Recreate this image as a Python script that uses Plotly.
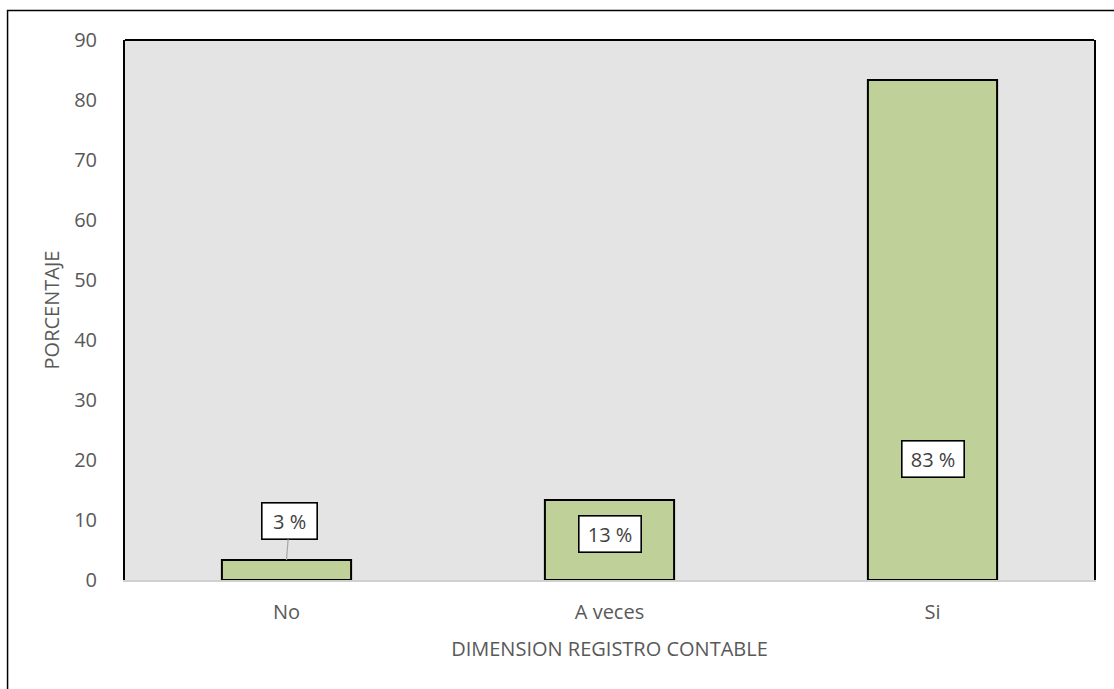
import plotly.graph_objects as go

categories = ["No", "A veces", "Si"]
values = [3.33, 13.33, 83.33]
labels = ["3 %", "13 %", "83 %"]
label_pos = [9.8, 7.7, 20.1]

y_ticks = [0, 10, 20, 30, 40, 50, 60, 70, 80, 90]

FONT = "Open Sans"
GREY = "#595959"
FS = 20

fig = go.Figure()
fig.add_trace(go.Bar(
    x=categories, y=values, width=0.4,
    marker=dict(color="#BFD098", line=dict(color="black", width=2)),
    hoverinfo="skip",
))

box_w = [46, 53, 53]
annotations = []
for i, (c, v, t, p) in enumerate(zip(categories, values, labels, label_pos)):
    common = dict(
        xref="x", yref="y", text=t, width=box_w[i], height=27,
        bgcolor="white", bordercolor="black", borderwidth=1.6, borderpad=4,
        font=dict(family=FONT, size=FS, color="#404040"),
    )
    if i == 0:
        annotations.append(dict(
            x=c, y=v, showarrow=True,
            ax=3, ay=-39, arrowhead=0, arrowwidth=1.2, arrowcolor="#A6A6A6",
            **common,
        ))
    else:
        annotations.append(dict(x=c, y=p, showarrow=False, **common))

fig.update_layout(
    width=1114, height=689,
    margin=dict(l=124.5, r=20, t=39.5, b=109),
    paper_bgcolor="white", plot_bgcolor="#E4E4E4",
    showlegend=False,
    font=dict(family=FONT, size=FS, color=GREY),
    bargap=0.6,
    annotations=annotations,
    xaxis=dict(
        showgrid=False, showline=True, linecolor="#D0D0D0", linewidth=2,
        ticks="", ticklabelstandoff=13,
        tickfont=dict(family=FONT, size=FS, color=GREY),
        title=dict(text="DIMENSION REGISTRO CONTABLE", standoff=18,
                   font=dict(family=FONT, size=FS, color=GREY)),
    ),
    yaxis=dict(
        range=[0, 90], tickvals=y_ticks, showgrid=False, zeroline=False,
        showline=True, linecolor="black", linewidth=2, mirror=True,
        ticks="", ticklabelstandoff=22,
        tickfont=dict(family=FONT, size=FS, color=GREY),
        title=dict(text="PORCENTAJE", standoff=9,
                   font=dict(family=FONT, size=FS, color=GREY)),
    ),
    shapes=[
        dict(type="line", xref="paper", yref="paper", x0=0, x1=1, y0=1, y1=1,
             line=dict(color="black", width=2)),
        dict(type="rect", xref="paper", yref="paper",
             x0=-0.1212, x1=1.03, y0=-0.21, y1=1.0546,
             line=dict(color="black", width=1.5), layer="below"),
    ],
)

fig.write_html("out.html")
